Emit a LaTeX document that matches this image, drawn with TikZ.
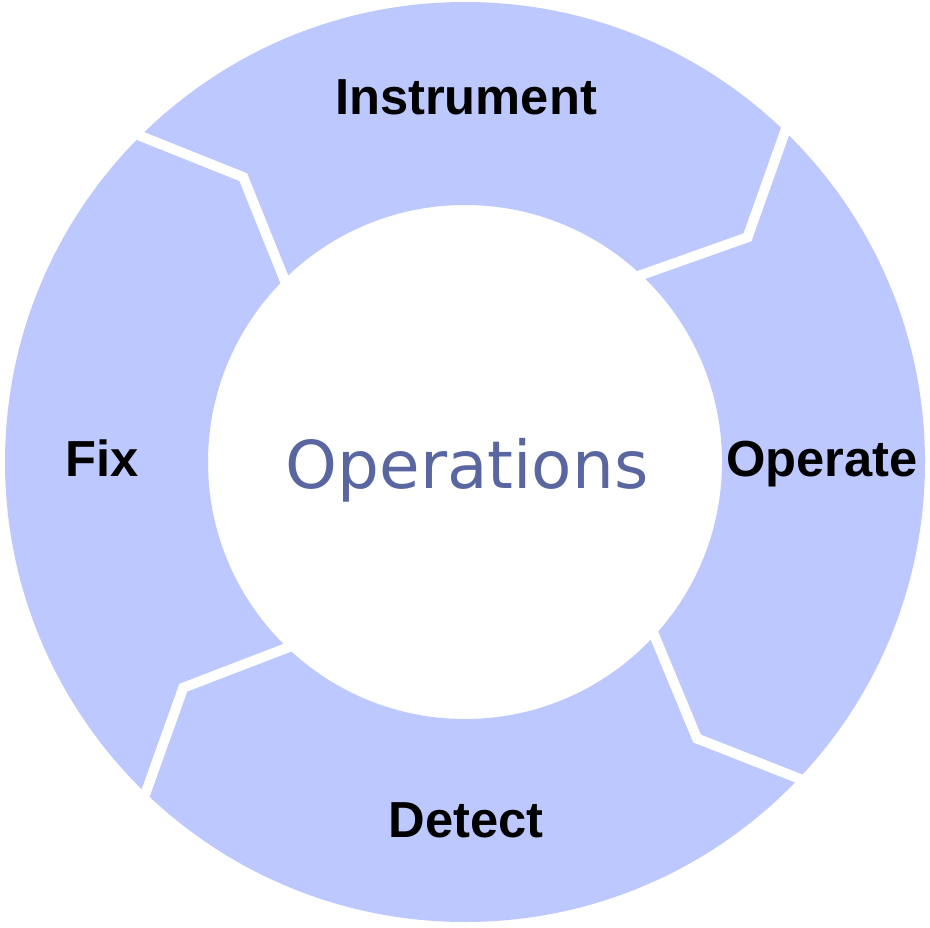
\documentclass[tikz,border=0pt]{standalone}
\usepackage{fontspec}
\setmainfont{Liberation Sans}
\newfontfamily\opsfont{DejaVu Sans}
\usepackage{xcolor}
\definecolor{ringblue}{RGB}{189,200,255}
\definecolor{opsblue}{RGB}{90,102,160}
\tikzset{
  steplabel/.style={font=\fontsize{38}{40}\selectfont\bfseries,anchor=base},
  gapline/.style={white,line width=7.5pt,line join=miter},
}
\begin{document}
\begin{tikzpicture}[x=0.75pt,y=0.75pt,yscale=-1,xscale=1]
    \useasboundingbox (0,0) rectangle (930,927);
    \coordinate (c) at (465,462);
    % ring
    \fill[ringblue,even odd rule] (c) circle (460) (c) circle (257);
    % white cuts between the four steps
    \begin{scope}[shift={(465,462)},yscale=-1]
      \foreach \o/\t/\i in {135.8/127.9/136.4, 46.9/38.5/48.8, -42.6/-50/-40.6, -133/-141.3/-131.8}
        \draw[gapline] (\o:478) -- (\t:361) -- (\i:240);
    \end{scope}
    \node[steplabel] (instrument) at (466,115) {Instrument};
    \node[steplabel] (operate) at (822,476) {Operate};
    \node[steplabel] (detect) at (466,837) {Detect};
    \node[steplabel] (fix) at (102,476) {Fix};
    \node[font=\opsfont\fontsize{49.5}{52}\selectfont,text=opsblue,anchor=base] (operations) at (467,488) {Operations};
\end{tikzpicture}
\end{document}
